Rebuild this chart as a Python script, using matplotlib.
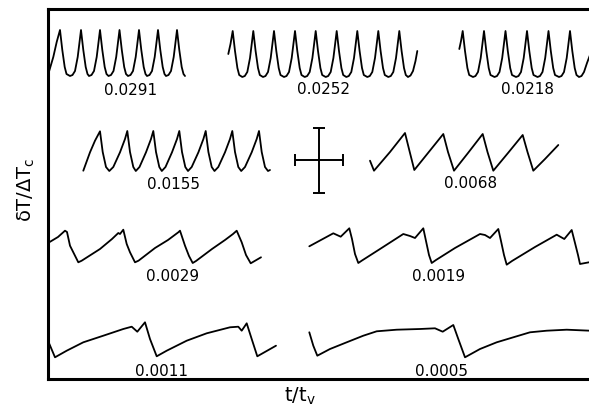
import matplotlib
matplotlib.use("Agg")
import matplotlib.pyplot as plt

# Temperature traces (t, deltaT) digitised per run; deltaT grows downward on the page
t_0291 = [48.3, 53.3, 56.7, 60,
          62.3, 64.7, 66.5, 70, 72.5, 75, 77.7, 79.3, 81,
          83.3, 85.7, 87.5, 89, 91.5, 94, 96.7, 98.3, 100,
          102.3, 104.7, 106.5, 108.5, 111, 113.5, 116.2, 117.8, 119.5,
          121.8, 124.2, 126, 128, 130.5, 133, 135.7, 137.3, 139,
          141.3, 143.7, 145.5, 147, 149.5, 152, 154.7, 156.3, 158,
          160.3, 162.7, 164.5, 166, 168.5, 171, 173.7, 175.3, 177,
          179.3, 181.7, 183.5, 185]
y_0291 = [75, 58, 43, 31,
          51, 68, 75, 77, 76, 72, 58, 45, 31,
          51, 68, 75, 77, 76, 72, 58, 45, 31,
          51, 68, 75, 77, 76, 72, 58, 45, 31,
          51, 68, 75, 77, 76, 72, 58, 45, 31,
          51, 68, 75, 77, 76, 72, 58, 45, 31,
          51, 68, 75, 77, 76, 72, 58, 45, 31,
          51, 68, 75, 77]

t_0252 = [228.3, 230.5, 232.7,
          235, 237.4, 239.2, 242.3, 244.8, 247.3, 250, 251.6, 253.3,
          255.6, 258, 259.8, 263, 265.5, 268, 270.7, 272.3, 274,
          276.3, 278.7, 280.5, 284, 286.5, 289, 291.7, 293.3, 295,
          297.3, 299.7, 301.5, 304.7, 307.2, 309.7, 312.4, 314, 315.7,
          318, 320.4, 322.2, 325.7, 328.2, 330.7, 333.4, 335, 336.7,
          339, 341.4, 343.2, 346.3, 348.8, 351.3, 354, 355.6, 357.3,
          359.6, 362, 363.8, 367.3, 369.8, 372.3, 375, 376.6, 378.3,
          380.6, 383, 384.8, 388.3, 390.8, 393.3, 396, 397.6, 399.3,
          401.6, 404, 405.8, 408, 410.5, 413, 415.5, 417.3]
y_0252 = [55, 45, 32,
          52, 69, 76, 78, 77, 73, 59, 46, 32,
          52, 69, 76, 78, 77, 73, 59, 46, 32,
          52, 69, 76, 78, 77, 73, 59, 46, 32,
          52, 69, 76, 78, 77, 73, 59, 46, 32,
          52, 69, 76, 78, 77, 73, 59, 46, 32,
          52, 69, 76, 78, 77, 73, 59, 46, 32,
          52, 69, 76, 78, 77, 73, 59, 46, 32,
          52, 69, 76, 78, 77, 73, 59, 46, 32,
          52, 69, 76, 78, 76.5, 72, 62, 52]

t_0218 = [459.3, 461, 462.7,
          465, 467.4, 469.2, 473, 475.5, 478, 480.7, 482.3, 484,
          486.3, 488.7, 490.5, 494.5, 497, 499.5, 502.2, 503.8, 505.5,
          507.8, 510.2, 512, 516, 518.5, 521, 523.7, 525.3, 527,
          529.3, 531.7, 533.5, 537.5, 540, 542.5, 545.2, 546.8, 548.5,
          550.8, 553.2, 555, 559, 561.5, 564, 566.7, 568.3, 570,
          572.3, 574.7, 576.5, 579, 581.5, 584, 587, 590]
y_0218 = [50, 42, 32,
          52, 69, 76, 78, 77, 73, 59, 46, 32,
          52, 69, 76, 78, 77, 73, 59, 46, 32,
          52, 69, 76, 78, 77, 73, 59, 46, 32,
          52, 69, 76, 78, 77, 73, 59, 46, 32,
          52, 69, 76, 78, 77, 73, 59, 46, 32,
          52, 69, 76, 78, 77, 73, 64, 56]

t_0155 = [83.3, 90, 95, 100,
          102.7, 106, 109.3, 113.3, 120, 125, 127.3,
          130, 133.3, 135.8, 139.5, 146, 151, 153.3,
          156, 159.3, 161.8, 165.5, 172, 177, 179.3,
          182, 185.3, 188, 191.7, 198.4, 203.4, 205.7,
          208.4, 211.7, 214.5, 218.3, 225, 230, 232.3,
          235, 238.3, 241.2, 245, 251.7, 256.7, 259,
          261.7, 265, 268, 270]
y_0155 = [171.7, 153.3, 141.7, 132.3,
          153, 168, 172, 168, 153.3, 140, 132,
          153, 168, 172, 168, 153.3, 140, 132,
          153, 168, 172, 168, 153.3, 140, 132,
          153, 168, 172, 168, 153.3, 140, 132,
          153, 168, 172, 168, 153.3, 140, 132,
          153, 168, 172, 168, 153.3, 140, 132,
          153, 168, 172, 171]

t_0068 = [370, 374, 390, 405, 409.5, 414.3, 428, 443.3, 448, 454,
          468, 482.7, 487.5, 493.3, 508, 522.7, 527.5, 533.3, 545, 558.3]
y_0068 = [161.7, 171.7, 153, 134, 152, 171, 154, 135, 153, 171.7,
          154, 135, 153, 171.7, 154, 136, 153, 171.7, 160, 146]

t_0029 = [48, 58, 65, 67, 70, 73.3, 78.3, 81.7, 100, 112, 118.3, 120, 123.3, 126.7, 130, 135,
          138.5, 155, 168, 178.3, 180, 185, 189, 192.7,
          196, 212, 225, 233, 236.7, 241.7, 246, 250.7, 261]
y_0029 = [244, 238, 231.7, 233, 246.7, 253.3, 263.3, 261.7, 250, 240, 234, 235, 230.7, 245, 253.3, 263.3,
          261.7, 249, 241, 233.3, 231.7, 246.7, 257, 264,
          262, 250, 241, 235, 231.7, 243.3, 256, 264.3, 258.3]

t_0019 = [309.3, 333.3, 340.7, 349.3, 352, 355, 358.3, 361.7, 380, 403.3, 410, 415, 423.3,
          426, 429, 431.7, 436, 455, 480, 485, 490, 498.3, 501, 504, 506.7,
          512, 535, 556.7, 564.3, 571.7, 575, 578, 580, 589]
y_0019 = [247.3, 234.3, 237.7, 229.3, 240, 255, 264, 261.7, 250, 235, 237, 239, 229.3,
          242, 256, 264, 261, 249, 235, 236, 239, 230, 242, 256, 265.7,
          262, 248, 235.7, 240, 231, 244, 256, 265, 263.3]

t_0011 = [48, 55, 66.7, 83.3, 103.3, 123.3, 131.7, 137.3, 145, 150, 156.7,
          166.7, 186.7, 206.7, 230, 238.3, 241.7, 246.7, 251.7, 257.3, 276]
y_0011 = [341.7, 358.3, 351.7, 343.3, 336.7, 330, 327.7, 332.7, 323.3, 340, 357.3,
          351.7, 341.7, 334.3, 328.3, 327.7, 331.7, 324.3, 340, 357.3, 346.7]

t_0005 = [309.3, 313.3, 317.3, 330, 346.7, 363.3, 376.7, 396.7, 420, 435, 442.7, 453.3,
          458.3, 465, 480, 496.7, 513.3, 530, 546.7, 566.7, 590]
y_0005 = [333.3, 346.7, 356.7, 350, 343.3, 336.7, 332.3, 330.7, 330, 329.3, 332.7, 326,
          340, 358.3, 350, 343.3, 338.3, 333.3, 331.7, 330.7, 331.7]

labels = ["0.0291", "0.0252", "0.0218", "0.0155", "0.0068",
          "0.0029", "0.0019", "0.0011", "0.0005"]
traces = [(t_0291, y_0291), (t_0252, y_0252), (t_0218, y_0218),
          (t_0155, y_0155), (t_0068, y_0068), (t_0029, y_0029),
          (t_0019, y_0019), (t_0011, y_0011), (t_0005, y_0005)]

# where each run's label sits under its trace
label_pos = [(131, 91), (324, 90), (527, 90), (173, 185), (471, 184),
             (173, 277), (439, 277), (162, 372), (442, 372)]

# scale bar (error cross)
cross_t, cross_y = 319, 161.5
cross_dt, cross_dy = 24, 32.5

fig = plt.figure(figsize=(5.89, 4.06), dpi=100)
ax = fig.add_axes([48 / 589, 26 / 406, 552 / 589, 370 / 406])
ax.set_xlim(48, 600)
ax.set_ylim(380, 10)

for (t, y) in traces:
    ax.plot(t, y, color="black", linewidth=1.3, solid_joinstyle="round",
            solid_capstyle="round")

for text, (tx, ty) in zip(labels, label_pos):
    ax.text(tx, ty, text, ha="center", va="center", fontsize=11,
            family="DejaVu Sans", color="black")

ax.errorbar([cross_t], [cross_y], xerr=cross_dt, yerr=cross_dy, fmt="none",
            ecolor="black", elinewidth=1.4, capsize=4.3, capthick=1.4)

for side in ["left", "top", "bottom"]:
    ax.spines[side].set_linewidth(2.2)
ax.spines["right"].set_visible(False)
ax.set_xticks([])
ax.set_yticks([])

fig.text(26 / 589, 1 - 190 / 406, "δT/ΔT$_\\mathregular{c}$", rotation=90,
         ha="center", va="center", fontsize=14)
fig.text(300 / 589, 1 - 396 / 406, "t/t$_\\mathregular{v}$",
         ha="center", va="center", fontsize=14)

fig.savefig("out.png", dpi=100, facecolor="white")
